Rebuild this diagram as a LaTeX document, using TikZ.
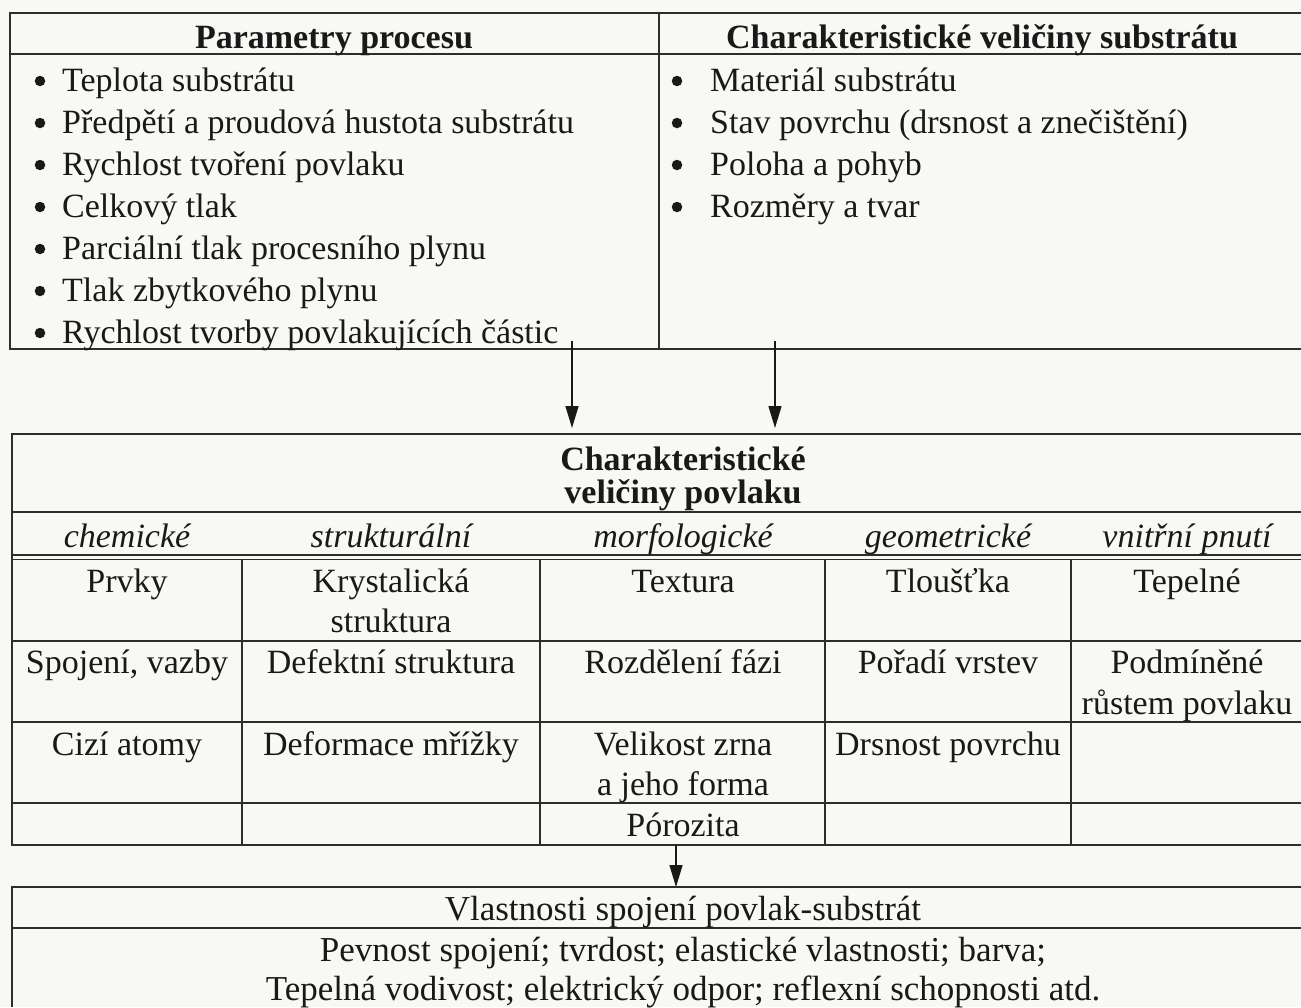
\documentclass[tikz,border=0pt]{standalone}
\usepackage{fontspec}
\setmainfont{Liberation Serif}
\usetikzlibrary{arrows.meta}
\definecolor{paper}{RGB}{248,248,245}
\definecolor{ink}{RGB}{25,25,25}
\definecolor{rule}{RGB}{45,45,45}
\begin{document}
\begin{tikzpicture}[x=1pt,y=-1pt,
  grid/.style={draw=rule,line width=1.8pt},
  txt/.style={anchor=base,inner sep=0pt,text=ink,font=\fontsize{34}{40}\selectfont},
  lft/.style={txt,anchor=base west},
  hdr/.style={txt,font=\fontsize{34}{40}\selectfont\bfseries},
  itl/.style={txt,font=\fontsize{34}{40}\selectfont\itshape},
  btxt/.style={txt,font=\fontsize{35}{41}\selectfont},
  bul/.style={circle,fill=ink,draw=none,inner sep=0pt,minimum size=10.5pt},
  arr/.style={draw=ink,line width=1.4pt,-{Triangle[length=22pt,width=13pt]}}]
\fill[paper] (0,0) rectangle (1301,1007);
\useasboundingbox (0,0) rectangle (1301,1007);

% ---------- top table ----------
\draw[grid] (1301,13) -- (10,13) -- (10,349) -- (1301,349);
\draw[grid] (10,54) -- (1301,54);
\draw[grid] (659,13) -- (659,349);
\node[hdr] (h1) at (334,48) {Parametry procesu};
\node[hdr] (h2) at (982,48) {Charakteristické veličiny substrátu};

\foreach \t [count=\i] in {Teplota substrátu,Předpětí a proudová hustota substrátu,Rychlost tvoření povlaku,Celkový tlak,Parciální tlak procesního plynu,Tlak zbytkového plynu,Rychlost tvorby povlakujících částic}{
  \node[bul] (lb\i) at (40,{39+42*\i}) {};
  \node[lft] (l\i) at (62,{49+42*\i}) {\t};
}
\foreach \t [count=\i] in {Materiál substrátu,Stav povrchu (drsnost a znečištění),Poloha a pohyb,Rozměry a tvar}{
  \node[bul] (rb\i) at (677,{39+42*\i}) {};
  \node[lft] (r\i) at (710,{49+42*\i}) {\t};
}

% ---------- arrows top -> middle ----------
\coordinate (a1s) at (572,341);
\coordinate (a1e) at (572,428);
\coordinate (a2s) at (775,341);
\coordinate (a2e) at (775,428);
\draw[arr] (a1s) -- (a1e);
\draw[arr] (a2s) -- (a2e);

% ---------- middle table ----------
\draw[grid] (1301,434) -- (12,434) -- (12,845) -- (1301,845);
\draw[grid] (12,512) -- (1301,512);
\draw[grid,line width=1.4pt] (12,555) -- (1301,555);
\draw[grid,line width=1.4pt] (12,559.5) -- (1301,559.5);
\draw[grid] (12,641) -- (1301,641);
\draw[grid] (12,722) -- (1301,722);
\draw[grid] (12,803) -- (1301,803);
\foreach \x in {242,540,825,1071}{
  \draw[grid] (\x,559.5) -- (\x,845);
}
\node[hdr] (t1) at (683,470) {Charakteristické};
\node[hdr] (t2) at (683,503) {veličiny povlaku};

\node[itl] (c1) at (127,547) {chemické};
\node[itl] (c2) at (391,547) {strukturální};
\node[itl] (c3) at (683,547) {morfologické};
\node[itl] (c4) at (948,547) {geometrické};
\node[itl] (c5) at (1187,547) {vnitřní pnutí};

% row 1
\node[txt] (p11) at (127,592) {Prvky};
\node[txt] (p21) at (391,592) {Krystalická};
\node[txt] (p21b) at (391,632) {struktura};
\node[txt] (p31) at (683,592) {Textura};
\node[txt] (p41) at (948,592) {Tloušťka};
\node[txt] (p51) at (1187,592) {Tepelné};
% row 2
\node[txt] (p12) at (127,673) {Spojení, vazby};
\node[txt] (p22) at (391,673) {Defektní struktura};
\node[txt] (p32) at (683,673) {Rozdělení fázi};
\node[txt] (p42) at (948,673) {Pořadí vrstev};
\node[txt] (p52) at (1187,673) {Podmíněné};
\node[txt] (p52b) at (1187,714) {růstem povlaku};
% row 3
\node[txt] (p13) at (127,755) {Cizí atomy};
\node[txt] (p23) at (391,755) {Deformace mřížky};
\node[txt] (p33) at (683,755) {Velikost zrna};
\node[txt] (p33b) at (683,795) {a jeho forma};
\node[txt] (p43) at (948,755) {Drsnost povrchu};
% row 4
\node[txt] (p34) at (683,836) {Pórozita};

% ---------- arrow middle -> bottom ----------
\coordinate (a3s) at (676,845);
\coordinate (a3e) at (676,887);
\draw[arr] (a3s) -- (a3e);

% ---------- bottom box ----------
\draw[grid] (1301,887) -- (12,887) -- (12,1007);
\draw[grid] (12,928) -- (1301,928);
\node[btxt] (b1) at (683,920) {Vlastnosti spojení povlak-substrát};
\node[btxt] (b2) at (683,961) {Pevnost spojení; tvrdost; elastické vlastnosti; barva;};
\node[btxt] (b3) at (683,1000) {Tepelná vodivost; elektrický odpor; reflexní schopnosti atd.};
\end{tikzpicture}
\end{document}
